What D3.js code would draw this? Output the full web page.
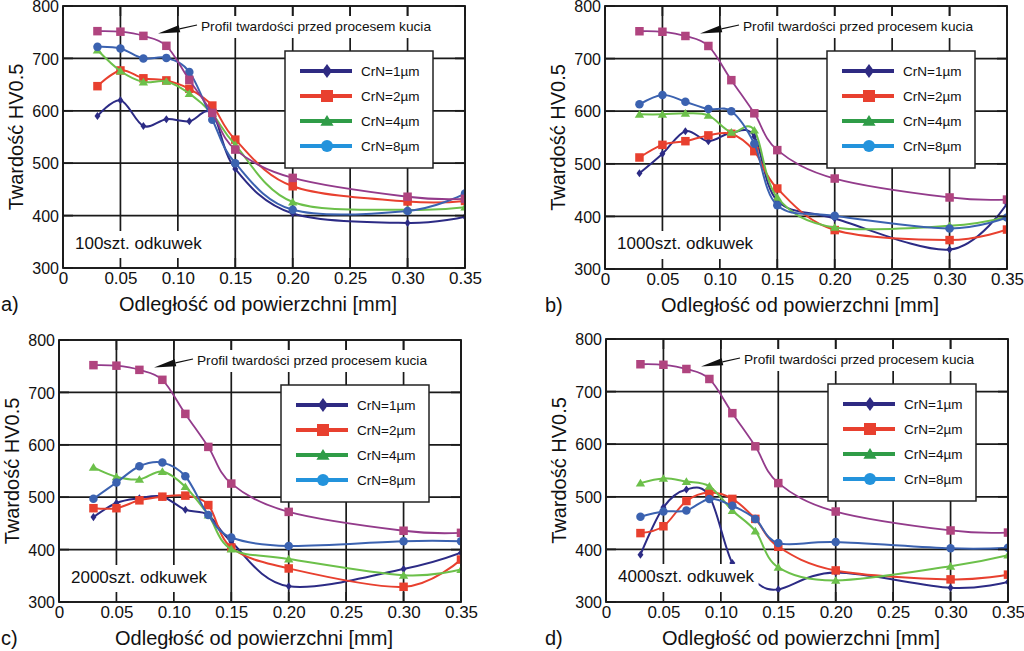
<!DOCTYPE html>
<html><head><meta charset="utf-8">
<script src="https://cdn.jsdelivr.net/npm/d3@7"></script>
<style>body{margin:0;background:#fff;} svg{display:block;font-family:"Liberation Sans",Arial,sans-serif;}</style>
</head><body><svg id="chart" width="1024" height="651"></svg>
<script>
// ---- data ----
const xValues = [0.03, 0.05, 0.07, 0.09, 0.11, 0.13, 0.15, 0.20, 0.30, 0.35];
const xTicks = [0, 0.05, 0.10, 0.15, 0.20, 0.25, 0.30, 0.35];
const xTickLabels = ["0", "0.05", "0.10", "0.15", "0.20", "0.25", "0.30", "0.35"];
const yTicks = [300, 400, 500, 600, 700, 800];
const seriesNames = ["CrN=1\u00b5m", "CrN=2\u00b5m", "CrN=4\u00b5m", "CrN=8\u00b5m"];
const profileLabel = "Profil twardości przed procesem kucia";
const profileValues = [752, 751, 743, 724, 659, 596, 526, 472, 436, 432];
const panelLetters = ["a)", "b)", "c)", "d)"];
const panelLabels = ["100szt. odkuwek", "1000szt. odkuwek", "2000szt. odkuwek", "4000szt. odkuwek"];
const xTitle = "Odległość od powierzchni [mm]";
const yTitle = "Twardość HV0.5";

const a_CrN1 = [590, 620, 571, 584, 580, 595, 489, 404, 386, 398];
const a_CrN2 = [647, 677, 662, 658, 642, 610, 545, 456, 427, 428];
const a_CrN4 = [716, 676, 655, 656, 633, 594, 535, 426, 411, 416];
const a_CrN8 = [722, 719, 700, 701, 674, 583, 500, 411, 409, 442];

const b_CrN1 = [482, 519, 562, 543, 559, 552, 430, 396, 337, 424];
const b_CrN2 = [512, 536, 543, 554, 557, 524, 453, 374, 355, 375];
const b_CrN4 = [594, 594, 596, 592, 560, 564, 436, 379, 382, 399];
const b_CrN8 = [613, 631, 618, 604, 600, 538, 421, 401, 377, 398];

const c_CrN1 = [462, 489, 498, 501, 476, 466, 415, 330, 363, 394];
const c_CrN2 = [479, 479, 494, 501, 503, 485, 404, 364, 329, 381];
const c_CrN4 = [557, 539, 534, 549, 520, 466, 401, 382, 351, 362];
const c_CrN8 = [497, 528, 559, 566, 540, 466, 423, 407, 416, 416];

const d_CrN1 = [390, 480, 514, 501, 374, 338, 324, 356, 327, 338];
const d_CrN2 = [431, 444, 492, 508, 496, 458, 405, 360, 343, 352];
const d_CrN4 = [526, 535, 529, 520, 474, 435, 366, 341, 368, 389];
const d_CrN8 = [462, 472, 474, 496, 483, 458, 412, 414, 402, 403];

// ---- styles / layout ----
const plotColors = ["#2c2b85", "#e8402f", "#6cc04a", "#3b62b0"];
const legendColors = ["#2e2a82", "#e8402f", "#2f9c47", "#2393dc"];
const markerTypes = ["diamond", "square", "triangle", "circle"];
const profileLine = "#933b8b", profileMarker = "#b0447f";

const layout = [
  {left: 63, top: 6, w: 402, h: 262, series: [a_CrN1, a_CrN2, a_CrN4, a_CrN8]},
  {left: 605, top: 6, w: 402, h: 263, series: [b_CrN1, b_CrN2, b_CrN4, b_CrN8]},
  {left: 59, top: 340, w: 402, h: 262, series: [c_CrN1, c_CrN2, c_CrN4, c_CrN8]},
  {left: 606, top: 339, w: 402, h: 263, series: [d_CrN1, d_CrN2, d_CrN4, d_CrN8]}
];

function markerPath(type, s) {
  const h = s / 2;
  if (type === "diamond") return `M0,${-h*1.15}L${h*0.85},0L0,${h*1.15}L${-h*0.85},0Z`;
  if (type === "square") return `M${-h},${-h}H${h}V${h}H${-h}Z`;
  if (type === "triangle") return `M0,${-h*1.0}L${h*1.1},${h*0.8}L${-h*1.1},${h*0.8}Z`;
  return d3.symbol(d3.symbolCircle, Math.PI * h * h)();
}

const svg = d3.select("#chart");
const curve = d3.curveCardinal.tension(0);

layout.forEach((p, pi) => {
  const g = svg.append("g").attr("transform", `translate(${p.left},${p.top})`);
  const x = d3.scaleLinear().domain([0, 0.35]).range([0, p.w]);
  const y = d3.scaleLinear().domain([300, 800]).range([p.h, 0]);

  // grid
  g.append("g").selectAll("line").data(xTicks).join("line")
    .attr("x1", d => x(d)).attr("x2", d => x(d)).attr("y1", 0).attr("y2", p.h)
    .attr("stroke", "#1a1a1a").attr("stroke-width", 1.7);
  g.append("g").selectAll("line").data(yTicks).join("line")
    .attr("x1", 0).attr("x2", p.w).attr("y1", d => y(d)).attr("y2", d => y(d))
    .attr("stroke", "#1a1a1a").attr("stroke-width", 1.7);

  const clip = "clip" + pi;
  g.append("clipPath").attr("id", clip).append("rect").attr("width", p.w).attr("height", p.h);
  const dg = g.append("g").attr("clip-path", `url(#${clip})`);
  const line = d3.line().x((d, i) => x(xValues[i])).y(d => y(d)).curve(curve);

  p.series.forEach((vals, si) => {
    dg.append("path").attr("d", line(vals)).attr("fill", "none")
      .attr("stroke", plotColors[si]).attr("stroke-width", 2);
    dg.append("g").selectAll("path").data(vals).join("path")
      .attr("transform", (d, i) => `translate(${x(xValues[i])},${y(d)})`)
      .attr("d", markerPath(markerTypes[si], si === 0 ? 7 : 8.5))
      .attr("fill", plotColors[si]);
  });
  dg.append("path").attr("d", line(profileValues)).attr("fill", "none")
    .attr("stroke", profileLine).attr("stroke-width", 1.8);
  dg.append("g").selectAll("path").data(profileValues).join("path")
    .attr("transform", (d, i) => `translate(${x(xValues[i])},${y(d)})`)
    .attr("d", markerPath("square", 8.5)).attr("fill", profileMarker);

  // panel label with white box
  const lbl = g.append("text").attr("x", 12).attr("y", 243).attr("font-size", 17)
    .attr("fill", "#111").text(panelLabels[pi]);
  const bb = lbl.node().getBBox();
  g.insert("rect", () => lbl.node()).attr("x", bb.x - 4).attr("y", 225).attr("width", bb.width + 8)
    .attr("height", p.h - 225 - 1).attr("fill", "#fff");

  // annotation
  const ann = g.append("text").attr("x", 138).attr("y", 25).attr("font-size", 13)
    .attr("textLength", 230).attr("lengthAdjust", "spacingAndGlyphs")
    .attr("fill", "#111").text(profileLabel);
  g.insert("rect", () => ann.node()).attr("x", 134).attr("y", 10).attr("width", 240).attr("height", 22).attr("fill", "#fff");
  const sx = 134, sy = 19, tx = 95, ty = 27.5;
  const dx = tx - sx, dy = ty - sy, L = Math.hypot(dx, dy), ux = dx / L, uy = dy / L;
  const hl = 22, hw = 3.6;
  const bx = tx - ux * hl, by = ty - uy * hl;
  g.append("line").attr("x1", sx).attr("y1", sy).attr("x2", bx).attr("y2", by)
    .attr("stroke", "#111").attr("stroke-width", 1.2);
  g.append("path").attr("d", `M${tx},${ty}L${bx - uy * hw},${by + ux * hw}L${bx + uy * hw},${by - ux * hw}Z`)
    .attr("fill", "#111");

  // inner ticks
  const tk = g.append("g").attr("stroke", "#1a1a1a").attr("stroke-width", 1.7);
  xTicks.forEach(t => {
    tk.append("line").attr("x1", x(t)).attr("x2", x(t)).attr("y1", p.h).attr("y2", p.h - 10);
    tk.append("line").attr("x1", x(t)).attr("x2", x(t)).attr("y1", 0).attr("y2", 10);
  });
  yTicks.forEach(t => {
    tk.append("line").attr("x1", 0).attr("x2", 10).attr("y1", y(t)).attr("y2", y(t));
    tk.append("line").attr("x1", p.w).attr("x2", p.w - 10).attr("y1", y(t)).attr("y2", y(t));
  });
  g.append("rect").attr("width", p.w).attr("height", p.h).attr("fill", "none")
    .attr("stroke", "#1a1a1a").attr("stroke-width", 1.8);

  // axes tick labels via d3 axes
  const xa = g.append("g").attr("transform", `translate(0,${p.h})`)
    .call(d3.axisBottom(x).tickValues(xTicks).tickFormat((d, i) => xTickLabels[i]).tickSize(0).tickPadding(4));
  xa.select(".domain").remove();
  xa.selectAll("text").attr("font-size", 17).attr("fill", "#111").attr("font-family", null);
  const ya = g.append("g").call(d3.axisLeft(y).tickValues(yTicks).tickSize(0).tickPadding(4));
  ya.select(".domain").remove();
  ya.selectAll("text").attr("font-size", 16).attr("fill", "#111").attr("font-family", null)
    .attr("dy", "0.36em");

  // titles
  g.append("text").attr("x", p.w / 2 - 6).attr("y", p.h + 43).attr("text-anchor", "middle")
    .attr("font-size", 20).attr("fill", "#111").text(xTitle);
  g.append("text").attr("transform", `translate(${-47},${p.h / 2}) rotate(-90)`)
    .attr("text-anchor", "middle").attr("dy", "0.35em")
    .attr("font-size", 20).attr("fill", "#111").text(yTitle);
  g.append("text").attr("x", (pi % 2 === 0 ? 1 : 545) - p.left).attr("y", p.h + 43)
    .attr("font-size", 20).attr("fill", "#111").text(panelLetters[pi]);

  // legend
  const lg = g.append("g").attr("transform", "translate(222,45)");
  lg.append("rect").attr("width", 148).attr("height", 117).attr("fill", "#fff")
    .attr("stroke", "#222").attr("stroke-width", 1.5);
  seriesNames.forEach((name, si) => {
    const ry = 20 + si * 25;
    lg.append("line").attr("x1", 15).attr("x2", 67).attr("y1", ry).attr("y2", ry)
      .attr("stroke", legendColors[si]).attr("stroke-width", 4);
    lg.append("path").attr("transform", `translate(42,${ry})`)
      .attr("d", markerPath(markerTypes[si], 12)).attr("fill", legendColors[si]);
    lg.append("text").attr("x", 76).attr("y", ry).attr("dy", "0.35em")
      .attr("font-size", 13.5).attr("fill", "#111").text(name);
  });
});
</script></body></html>
